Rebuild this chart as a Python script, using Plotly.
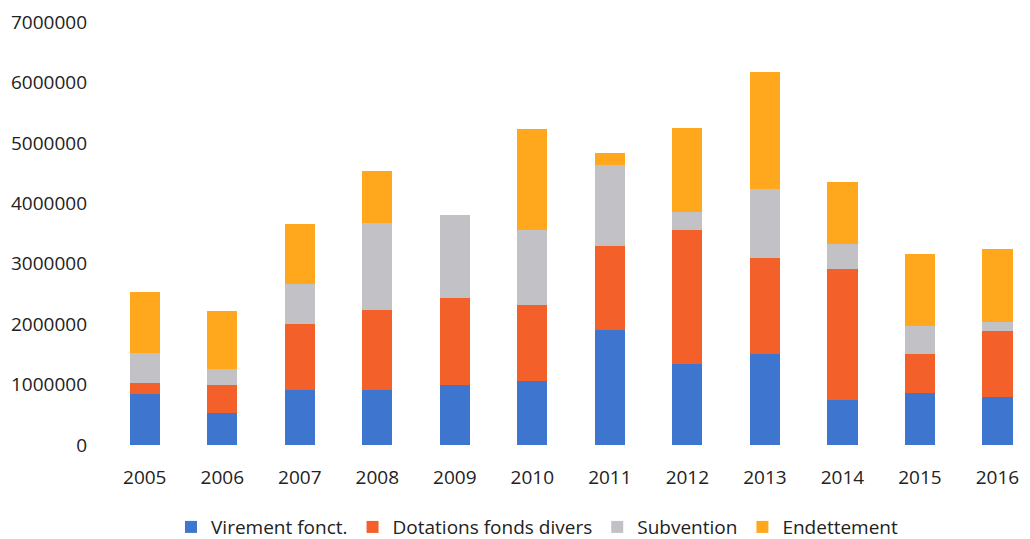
import plotly.graph_objects as go

years = ["2005", "2006", "2007", "2008", "2009", "2010", "2011", "2012", "2013", "2014", "2015", "2016"]
virement = [850000, 530000, 910000, 910000, 1000000, 1060000, 1910000, 1340000, 1510000, 750000, 860000, 800000]
dotations = [170000, 460000, 1090000, 1330000, 1430000, 1260000, 1380000, 2210000, 1590000, 2160000, 650000, 1080000]
subvention = [510000, 270000, 660000, 1430000, 1380000, 1240000, 1340000, 300000, 1140000, 410000, 460000, 150000]
endettement = [1010000, 960000, 1000000, 860000, 0, 1670000, 200000, 1390000, 1940000, 1030000, 1190000, 1210000]
y_ticks = [0, 1000000, 2000000, 3000000, 4000000, 5000000, 6000000, 7000000]

series = [
    ("Virement fonct.", virement, "#3E75CF"),
    ("Dotations fonds divers", dotations, "#F4602A"),
    ("Subvention", subvention, "#C2C1C6"),
    ("Endettement", endettement, "#FFA81E"),
]

fig = go.Figure()
for name, vals, color in series:
    fig.add_trace(go.Bar(x=years, y=vals, name=name, marker=dict(color=color, line=dict(width=0))))

font = dict(family="Open Sans", size=19, color="#222222")
fig.update_layout(
    barmode="stack",
    bargap=0.61,
    width=1030,
    height=539,
    margin=dict(l=98, r=8, t=14, b=102),
    paper_bgcolor="white",
    plot_bgcolor="white",
    font=font,
    xaxis=dict(type="category", range=[-0.5, 11.42], showgrid=False, showline=False,
               ticks="", tickfont=font, ticklabelstandoff=19, automargin=False),
    yaxis=dict(range=[0, 7000000], tickvals=y_ticks, ticktext=[str(v) for v in y_ticks],
               showgrid=False, zeroline=False, showline=False, ticks="", tickfont=font,
               ticklabelstandoff=18, automargin=False),
    legend=dict(orientation="h", x=0.467, xanchor="center", xref="paper",
                y=0.037, yanchor="middle", yref="container",
                font=font, itemwidth=30, traceorder="normal"),
    showlegend=True,
)
fig.write_html("out.html")
